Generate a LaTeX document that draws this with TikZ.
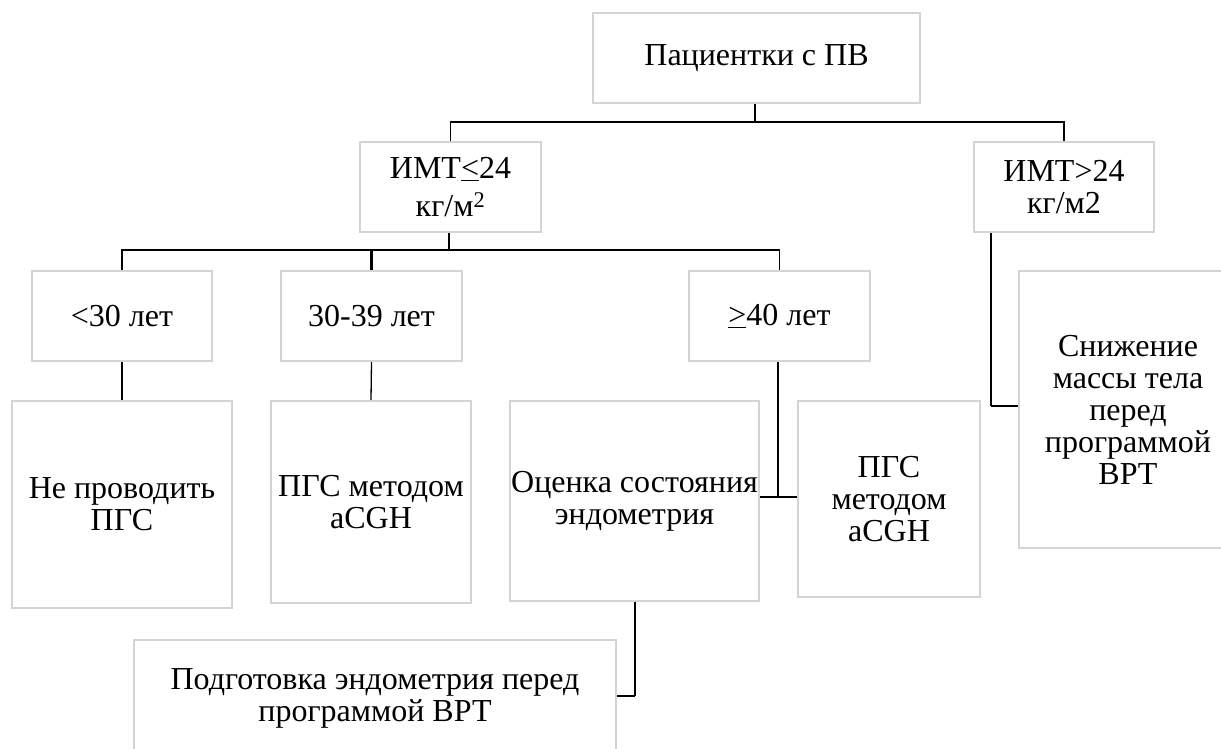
\documentclass[tikz,border=0pt]{standalone}
\usepackage{fontspec}
\setmainfont{Liberation Serif}
\definecolor{boxgray}{RGB}{212,212,212}
\tikzset{
  blk/.style={draw=boxgray, line width=2pt, fill=white, align=center, inner sep=0pt,
    font=\fontsize{32}{32}\selectfont, text=black},
  thinc/.style={draw=black, line width=1.3pt},
  thickc/.style={draw=black, line width=2.7pt},
}
\begin{document}
\begin{tikzpicture}[x=1pt, y=-1pt]
\useasboundingbox (0,0) rectangle (1221,749);
\clip (0,0) rectangle (1221,749);
\fill[white] (0,0) rectangle (1221,749);

% nodes
\node[blk, minimum width=327pt, minimum height=90pt] (top) at (756.5,58) {Пациентки с ПВ};
\node[blk, minimum width=181pt, minimum height=90pt] (imtA) at (450.5,187) {ИМТ\underline{<}24\\[6pt]кг/м\textsuperscript{2}};
\node[blk, minimum width=180pt, minimum height=90pt] (imtB) at (1064,187) {ИМТ>24\\кг/м2};
\node[blk, minimum width=180pt, minimum height=90pt] (a30) at (122,316) {<30 лет};
\node[blk, minimum width=181pt, minimum height=90pt] (a3039) at (371.5,316) {30-39 лет};
\node[blk, minimum width=181pt, minimum height=90pt] (a40) at (779.5,316) {\underline{>}40 лет};
\node[blk, minimum width=220pt, minimum height=207pt] (npgs) at (122,504.5) {Не проводить\\ПГС};
\node[blk, minimum width=200pt, minimum height=202pt] (pgsA) at (371,502) {ПГС методом\\aCGH};
\node[blk, minimum width=249pt, minimum height=200pt] (ocen) at (634.5,501) {Оценка состояния\\эндометрия};
\node[blk, minimum width=182pt, minimum height=196pt] (pgsB) at (889,499) {ПГС\\методом\\aCGH};
\node[blk, minimum width=218pt, minimum height=277pt] (snizh) at (1128,409.5) {Снижение\\массы тела\\перед\\программой\\ВРТ};
\node[blk, minimum width=482pt, minimum height=116pt] (podg) at (375,698) {Подготовка эндометрия перед\\программой ВРТ};

% junction points
\coordinate (j1) at (755,122);
\coordinate (j2) at (449,250);
\coordinate (j3) at (778,497);
\coordinate (j4) at (991,406);
\coordinate (j5) at (635,696);

% connectors
\draw[thickc] (top.south -| j1) -- (j1);
\draw[thinc] (j1) -| (imtA.north);
\draw[thickc] (j1) -| (imtB.north);

\draw[thickc] (imtA.south -| j2) -- (j2);
\draw[thinc] (j2) -| (a30.north);
\draw[thickc] (j2) -| (a3039.north);
\draw[thinc] (j2) -| (a40.north);

\draw[thinc] (a30.south) -- (npgs.north);
\draw[thinc] (a3039.south) -- (pgsA.north);

\draw[thinc] (a40.south -| j3) -- (j3);
\draw[thickc] (j3) -- (ocen.east |- j3);
\draw[thinc] (j3) -- (pgsB.west |- j3);

\draw[thinc] (imtB.south -| j4) -- (j4);
\draw[thickc] (j4) -- (snizh.west |- j4);

\draw[thinc] (ocen.south -| j5) -- (j5);
\draw[thickc] (j5) -- (podg.east |- j5);
\end{tikzpicture}
\end{document}
